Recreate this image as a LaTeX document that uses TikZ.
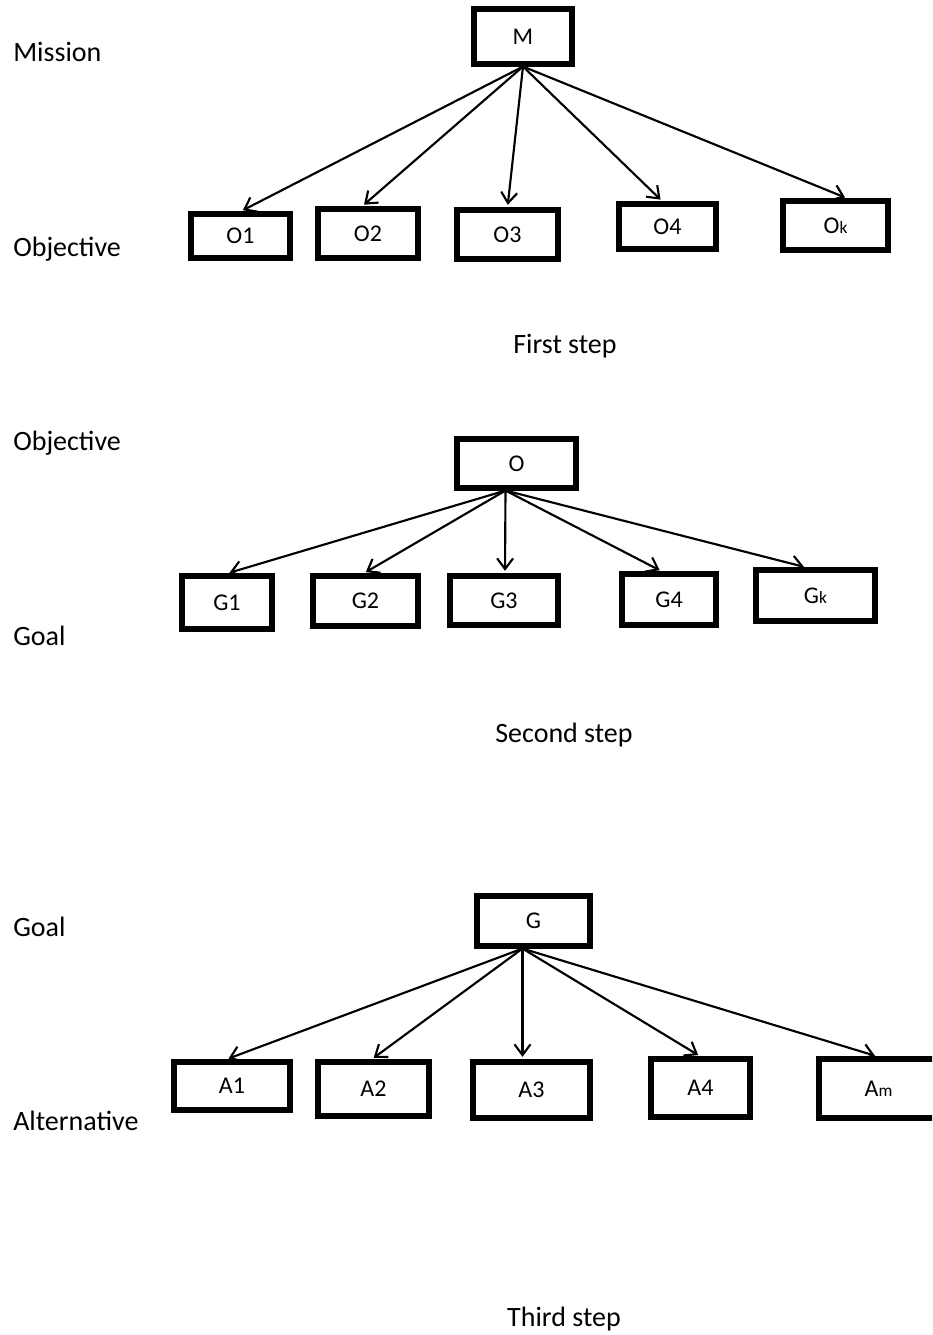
\documentclass[tikz,border=0pt]{standalone}
\usepackage{fontspec}
\setmainfont{Carlito}
\usetikzlibrary{arrows.meta,calc}
\newcommand\smallsub[1]{{\fontsize{13}{13}\selectfont #1}}
\tikzset{
  box/.style={draw, line width=3.8pt, rectangle, inner sep=0pt, font=\fontsize{18}{21}\selectfont},
  lbl/.style={anchor=base west, inner sep=0pt, font=\fontsize{21}{25}\selectfont},
  steplbl/.style={anchor=base, inner sep=0pt, font=\fontsize{21}{25}\selectfont},
  conn/.style={line width=1.6pt, -{Straight Barb[length=8pt,width=12pt,line width=1.6pt]}, shorten >=2pt}
}
\begin{document}
\begin{tikzpicture}[x=0.75pt,y=-0.75pt]
\useasboundingbox (0,0) rectangle (932,1335);
\clip (0,0) rectangle (932,1335);
% ---------- First step
\node[lbl] (lmission) at (13,61) {Mission};
\node[lbl] (lobj1) at (13,256) {Objective};
\node[steplbl] (s1) at (565,353) {First step};
\node[box, minimum width=98*0.75pt, minimum height=55*0.75pt] (M) at (523,36.5) {M};
\node[box, minimum width=99*0.75pt, minimum height=44*0.75pt] (O1) at (240.5,236) {O1};
\node[box, minimum width=100*0.75pt, minimum height=49*0.75pt] (O2) at (368,233.5) {O2};
\node[box, minimum width=101*0.75pt, minimum height=49*0.75pt] (O3) at (507.5,234.5) {O3};
\node[box, minimum width=97*0.75pt, minimum height=45*0.75pt] (O4) at (667.5,226.5) {O4};
\node[box, minimum width=105*0.75pt, minimum height=49*0.75pt] (Ok) at (835.5,225.5) {O\smallsub{k}};
\draw[conn] (M.south) -- (O1.north);
\draw[conn] (M.south) -- ($(O2.north)+(-6,0)$);
\draw[conn] (M.south) -- (O3.north);
\draw[conn] (M.south) -- ($(O4.north)+(-5,0)$);
\draw[conn] (M.south) -- ($(Ok.north)+(12,0)$);
% ---------- Second step
\node[lbl] (lobj2) at (13,450) {Objective};
\node[lbl] (lgoal1) at (13,645) {Goal};
\node[steplbl] (s2) at (564,742) {Second step};
\node[box, minimum width=119*0.75pt, minimum height=49*0.75pt] (O) at (516.5,463.5) {O};
\node[box, minimum width=90*0.75pt, minimum height=53*0.75pt] (G1) at (227,602.5) {G1};
\node[box, minimum width=105*0.75pt, minimum height=50*0.75pt] (G2) at (365.5,601) {G2};
\node[box, minimum width=108*0.75pt, minimum height=49*0.75pt] (G3) at (504,600.5) {G3};
\node[box, minimum width=94*0.75pt, minimum height=51*0.75pt] (G4) at (669,599.5) {G4};
\node[box, minimum width=119*0.75pt, minimum height=51*0.75pt] (Gk) at (815.5,595.5) {G\smallsub{k}};
\coordinate (Os) at ($(O.south)+(-11,0)$);
\draw[conn] (Os) -- (G1.north);
\draw[conn] (Os) -- ($(G2.north)+(-2,0)$);
\draw[conn] (Os) -- ($(G3.north)+(1,0)$);
\draw[conn] (Os) -- ($(G4.north)+(-7,0)$);
\draw[conn] (Os) -- ($(Gk.north)+(-9,0)$);
% ---------- Third step
\node[lbl] (lgoal2) at (13,936) {Goal};
\node[lbl] (lalt) at (13,1130) {Alternative};
\node[steplbl] (s3) at (564,1326) {Third step};
\node[box, minimum width=113*0.75pt, minimum height=50*0.75pt] (G) at (533.5,921) {G};
\node[box, minimum width=116*0.75pt, minimum height=48*0.75pt] (A1) at (232,1086) {A1};
\node[box, minimum width=111*0.75pt, minimum height=54*0.75pt] (A2) at (373.5,1089) {A2};
\node[box, minimum width=117*0.75pt, minimum height=56*0.75pt] (A3) at (531.5,1090) {A3};
\node[box, minimum width=99*0.75pt, minimum height=58*0.75pt] (A4) at (700.5,1088) {A4};
\node[box, minimum width=119*0.75pt, minimum height=59*0.75pt] (Am) at (878.5,1088.5) {A\smallsub{m}};
\coordinate (Gs) at ($(G.south)+(-11,0)$);
\draw[conn] (Gs) -- ($(A1.north)+(-6,0)$);
\draw[conn] (Gs) -- ($(A2.north)+(-2,0)$);
\draw[conn] (Gs) -- ($(A3.north)+(-9,0)$);
\draw[conn] (Gs) -- (A4.north);
\draw[conn] (Gs) -- ($(Am.north)+(-1,0)$);
\end{tikzpicture}
\end{document}
